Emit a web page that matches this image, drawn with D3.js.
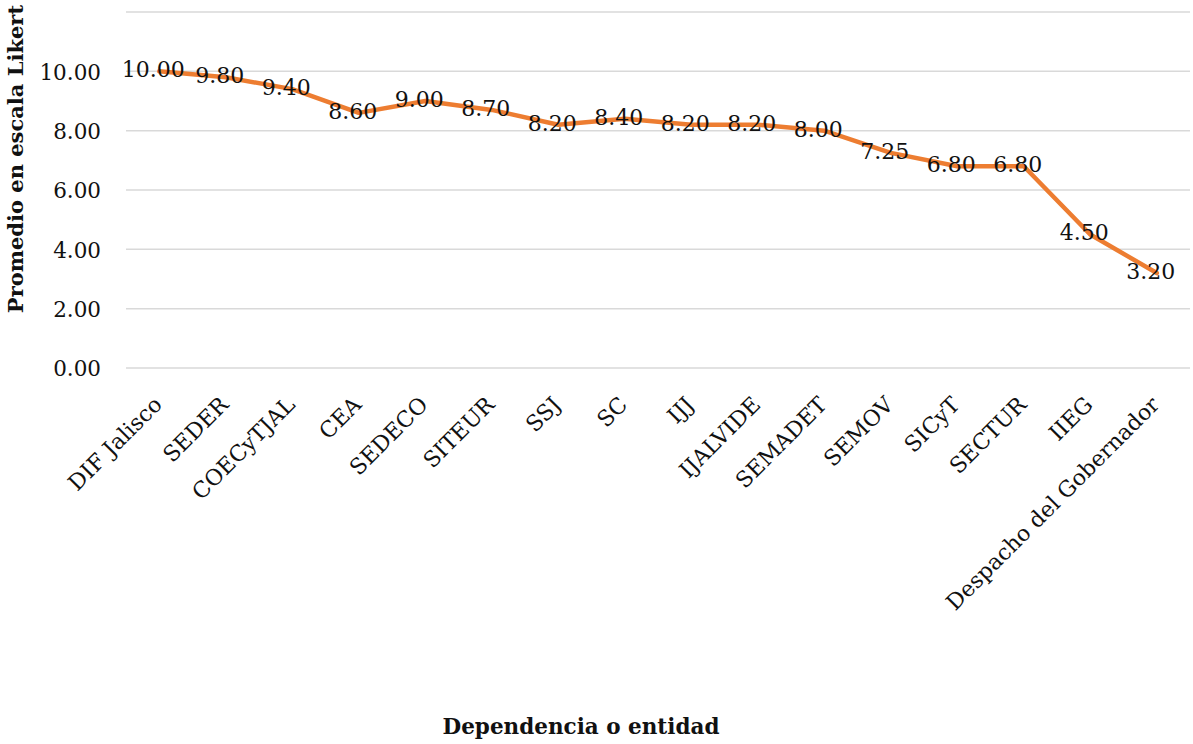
<!DOCTYPE html>
<html><head><meta charset="utf-8">
<script src="https://cdn.jsdelivr.net/npm/d3@7"></script>
<style>body{margin:0;background:#fff}svg{display:block}</style>
</head><body>
<svg id="c" width="1193" height="744"></svg>
<script>
const categories = ["DIF Jalisco","SEDER","COECyTJAL","CEA","SEDECO","SITEUR","SSJ","SC","IJJ","IJALVIDE","SEMADET","SEMOV","SICyT","SECTUR","IIEG","Despacho del Gobernador"];
const values = [10.00,9.80,9.40,8.60,9.00,8.70,8.20,8.40,8.20,8.20,8.00,7.25,6.80,6.80,4.50,3.20];
const yTicks = [0,2,4,6,8,10,12];
const yTickLabels = ["0.00","2.00","4.00","6.00","8.00","10.00",""];
const yTitle = "Promedio en escala Likert";
const xTitle = "Dependencia o entidad";

(function(){
const svg = d3.select("#c");
const font = "'DejaVu Serif', serif";
const pLeft = 126, pRight = 1190, pTop = 12, pBottom = 368;
const x = d3.scaleBand().domain(categories).range([pLeft, pRight]);
const y = d3.scaleLinear().domain([0, 12]).range([pBottom, pTop]);
const cx = d => x(d) + x.bandwidth() / 2;

// gridlines
svg.append("g").selectAll("line").data(yTicks).join("line")
  .attr("x1", pLeft).attr("x2", pRight)
  .attr("y1", d => y(d)).attr("y2", d => y(d))
  .attr("stroke", "#d9d9d9").attr("stroke-width", 1.5);

// y axis labels
const yAxis = d3.axisLeft(y).tickValues(yTicks).tickSize(0).tickPadding(0)
  .tickFormat((d, i) => yTickLabels[i]);
const ga = svg.append("g").attr("transform", `translate(101,0)`).call(yAxis);
ga.select(".domain").remove();
ga.selectAll("text").attr("font-family", font).attr("font-size", 21.5).attr("fill", "#111").attr("dy", "0.36em");

// x axis labels
const xAxis = d3.axisBottom(x).tickSize(0).tickPadding(0);
const gx = svg.append("g").attr("transform", `translate(0,${pBottom})`).call(xAxis);
gx.select(".domain").remove();
gx.selectAll("text")
  .attr("font-family", font).attr("font-size", 22).attr("fill", "#111")
  .attr("text-anchor", "end").attr("dy", null).attr("y", 0)
  .attr("transform", "translate(4,38) rotate(-45)");

// line
const line = d3.line().x((d, i) => cx(categories[i])).y(d => y(d));
svg.append("path").datum(values)
  .attr("d", line).attr("fill", "none")
  .attr("stroke", "#ED7D31").attr("stroke-width", 4.5)
  .attr("stroke-linejoin", "round").attr("stroke-linecap", "round");

// data labels
svg.append("g").selectAll("text").data(values).join("text")
  .attr("x", (d, i) => cx(categories[i]) - 6)
  .attr("y", d => y(d) - 2)
  .attr("dy", "0.36em")
  .attr("text-anchor", "middle")
  .attr("font-family", font).attr("font-size", 22).attr("fill", "#111")
  .text(d => d.toFixed(2));

// titles
svg.append("text")
  .attr("transform", `translate(23,159) rotate(-90)`)
  .attr("text-anchor", "middle")
  .attr("font-family", font).attr("font-weight", "bold").attr("font-size", 21).attr("fill", "#111")
  .text(yTitle);
svg.append("text")
  .attr("x", 581).attr("y", 734)
  .attr("text-anchor", "middle")
  .attr("font-family", font).attr("font-weight", "bold").attr("font-size", 21.5).attr("fill", "#111")
  .text(xTitle);
})();
</script>
</body></html>
